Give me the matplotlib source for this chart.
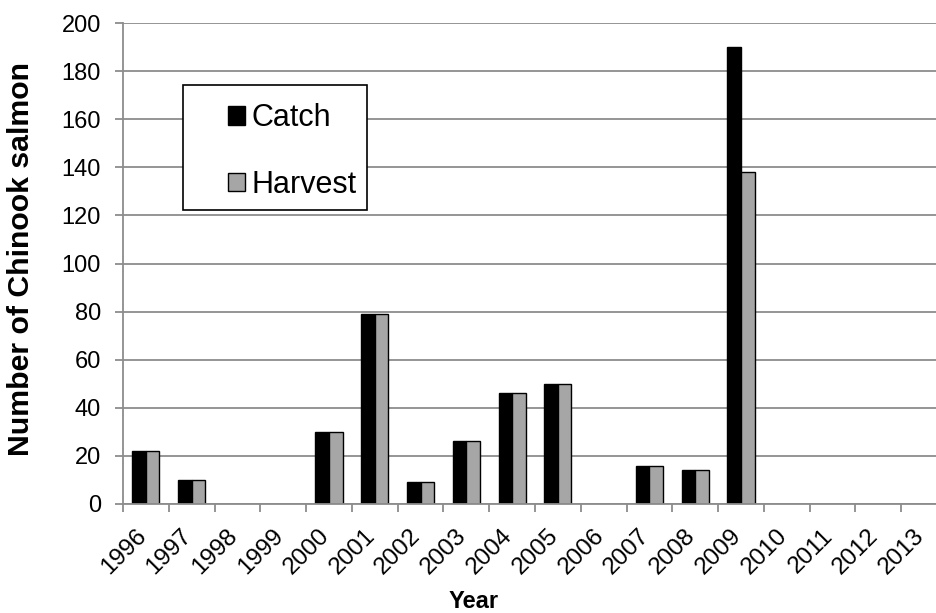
import matplotlib.pyplot as plt
from matplotlib.patches import Rectangle
import numpy as np

plt.rcParams['font.family'] = ['Liberation Sans', 'DejaVu Sans']

years = ['1996', '1997', '1998', '1999', '2000', '2001', '2002', '2003', '2004',
         '2005', '2006', '2007', '2008', '2009', '2010', '2011', '2012', '2013']
catch = [22, 10, None, None, 30, 79, 9, 26, 46, 50, None, 16, 14, 190, None, None, None, None]
harvest = [22, 10, None, None, 30, 79, 9, 26, 46, 50, None, 16, 14, 138, None, None, None, None]


def main():
    W, H = 936, 613
    fig = plt.figure(figsize=(W / 100, H / 100), dpi=100)
    # plot area runs a little past the right edge of the picture (cropped chart)
    ax = fig.add_axes([123 / W, 1 - 504 / H, 824 / W, 481 / H])

    c = np.array([np.nan if v is None else v for v in catch], dtype=float)
    h = np.array([np.nan if v is None else v for v in harvest], dtype=float)
    x = np.arange(len(years))
    w = 0.295

    ax.set_axisbelow(True)
    ax.yaxis.grid(True, color='#8c8c8c', linewidth=1.3)
    ax.bar(x - w / 2, c, w, color='black', edgecolor='black', linewidth=1, label='Catch')
    ax.bar(x + w / 2, h, w, color='#a6a6a6', edgecolor='black', linewidth=1, label='Harvest')

    ax.set_xlim(-0.5, len(years) - 0.5)
    ax.set_ylim(0, 200)
    ax.set_yticks(range(0, 201, 20))

    # ticks at category boundaries, labels near the centers
    ax.set_xticks(np.arange(len(years) + 1) - 0.5)
    ax.set_xticklabels([])
    ax.set_xticks(x - 0.24, minor=True)
    ax.set_xticklabels(years, minor=True, rotation=45, ha='right', va='top',
                       rotation_mode='anchor', fontsize=17.5)
    ax.tick_params(axis='x', which='minor', length=0, pad=15)
    ax.tick_params(axis='x', which='major', length=6, color='#8c8c8c', width=1.3)
    ax.tick_params(axis='y', length=6, color='#8c8c8c', width=1.3, labelsize=17, pad=10)

    for s in ['top', 'right']:
        ax.spines[s].set_visible(False)
    for s in ['left', 'bottom']:
        ax.spines[s].set_color('#8c8c8c')
        ax.spines[s].set_linewidth(1.3)

    ax.set_ylabel('Number of Chinook salmon', fontsize=21.8, fontweight='bold')
    ax.yaxis.set_label_coords((35 - 123) / 824, (504 - 259.5) / 481)
    ax.set_xlabel('Year', fontsize=17, fontweight='bold', va='top')
    ax.xaxis.set_label_coords((474 - 123) / 824, (504 - 590) / 481)

    # legend box
    ax.add_patch(Rectangle((183 / W, 1 - 210 / H), 184 / W, 125 / H,
                           transform=fig.transFigure, facecolor='white',
                           edgecolor='black', linewidth=1.2, zorder=5, clip_on=False))
    leg = ax.legend(loc='upper left', bbox_to_anchor=(228 / W, 1 - 103 / H),
                    bbox_transform=fig.transFigure, fontsize=22, frameon=False,
                    handlelength=0.56, handleheight=0.56, handletextpad=0.2,
                    labelspacing=1.2, borderpad=0, borderaxespad=0)
    leg.set_zorder(6)
    for hd in leg.legend_handles:
        hd.set_edgecolor('black')

    fig.savefig('out.png', dpi=100)


if __name__ == "__main__":
    main()
